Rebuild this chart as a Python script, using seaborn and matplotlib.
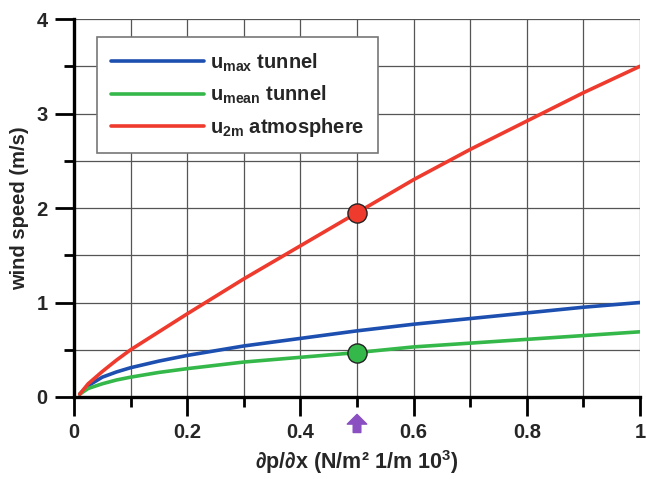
import numpy as np
import pandas as pd
import matplotlib
matplotlib.use("Agg")
import matplotlib.pyplot as plt
import seaborn as sns

# pressure gradient values
grad = [0.01, 0.025, 0.05, 0.075, 0.1, 0.15, 0.2, 0.3, 0.4, 0.5, 0.6, 0.7, 0.8, 0.9, 1.0]
u_max = [0.03, 0.12, 0.21, 0.265, 0.31, 0.38, 0.44, 0.54, 0.62, 0.70, 0.77, 0.83, 0.89, 0.95, 1.00]
u_mean = [0.03, 0.09, 0.14, 0.18, 0.21, 0.26, 0.30, 0.37, 0.42, 0.47, 0.53, 0.57, 0.61, 0.65, 0.69]
u_2m = [0.03, 0.14, 0.27, 0.39, 0.50, 0.69, 0.88, 1.25, 1.60, 1.95, 2.30, 2.62, 2.92, 3.22, 3.50]

series = ["umax", "umean", "u2m"]
labels = [r"u$_{max}$ tunnel", r"u$_{mean}$ tunnel", r"u$_{2m}$ atmosphere"]
colors = ["#1d4fb0", "#35b84a", "#ef3a2e"]

# highlighted operating point
pt_x = 0.5
pt_y = [1.95, 0.47]
pt_col = ["#ef3a2e", "#35b84a"]

df = pd.DataFrame({
    "x": grad * 3,
    "y": u_max + u_mean + u_2m,
    "s": [series[0]] * len(grad) + [series[1]] * len(grad) + [series[2]] * len(grad),
})

sns.set_style("white")
plt.rcParams["font.family"] = ["Liberation Sans", "DejaVu Sans"]
plt.rcParams["font.weight"] = "bold"
plt.rcParams["mathtext.fontset"] = "custom"
plt.rcParams["mathtext.rm"] = "Liberation Sans:bold"
plt.rcParams["mathtext.bf"] = "Liberation Sans:bold"
plt.rcParams["mathtext.it"] = "Liberation Sans:bold"
plt.rcParams["mathtext.default"] = "bf"

fig = plt.figure(figsize=(6.46, 4.79), dpi=100)
ax = fig.add_axes([0.1146, 0.1712, 0.8761, 0.7891])

sns.lineplot(data=df, x="x", y="y", hue="s", palette=dict(zip(series, colors)),
             linewidth=2.6, ax=ax, legend=False, zorder=3)

for y, c in zip(pt_y, pt_col):
    ax.scatter([pt_x], [y], s=190, color=c, edgecolor="#222222", linewidth=1.0, zorder=4)

ax.set_xlim(0, 1)
ax.set_ylim(0, 4)
ax.set_xticks([0, 0.2, 0.4, 0.6, 0.8, 1.0])
ax.set_xticklabels(["0", "0.2", "0.4", "0.6", "0.8", "1"])
ax.set_xticks(np.arange(0.1, 1.0, 0.2), minor=True)
ax.set_yticks([0, 1, 2, 3, 4])
ax.set_yticks([0.5, 1.5, 2.5, 3.5], minor=True)

ax.grid(True, which="both", color="#555555", linewidth=0.9)
ax.set_axisbelow(True)
ax.tick_params(which="both", bottom=True, left=True, top=False, right=False)
ax.tick_params(which="major", direction="out", length=14, width=2, color="black",
               labelsize=14.5, pad=5)
ax.tick_params(which="minor", direction="out", length=7, width=2, color="black")
for t in ax.get_xticklabels() + ax.get_yticklabels():
    t.set_fontweight("bold")

for side in ["top", "right"]:
    ax.spines[side].set_visible(False)
for side in ["left", "bottom"]:
    ax.spines[side].set_color("black")
    ax.spines[side].set_linewidth(2.4)
    ax.spines[side].set_zorder(5)

ax.set_xlabel("∂p/∂x (N/m² 1/m 10$^{3}$)", fontsize=15.5, fontweight="bold", labelpad=4)
ax.set_ylabel("wind speed (m/s)", fontsize=14.5, fontweight="bold", labelpad=5)

# purple arrow marking the chosen gradient
ax.annotate("", xy=(pt_x, -0.046), xytext=(pt_x, -0.094),
            xycoords=("data", "axes fraction"), textcoords=("data", "axes fraction"),
            arrowprops=dict(arrowstyle="simple,head_length=0.7,head_width=1.4,tail_width=0.55",
                            mutation_scale=10, shrinkA=0, shrinkB=0, color="#8a4fc0"),
            annotation_clip=False)

handles = [plt.Line2D([], [], color=c, linewidth=2.6) for c in colors]
leg = ax.legend(handles, labels, loc="upper left", bbox_to_anchor=(0.03, 0.968),
                fontsize=14.5, handlelength=4.6, handletextpad=0.3, labelspacing=0.5,
                borderpad=0.7, borderaxespad=0.3, fancybox=False, framealpha=1,
                edgecolor="#777777")
leg.get_frame().set_linewidth(1.2)
for t in leg.get_texts():
    t.set_fontweight("bold")

fig.savefig("out.png", dpi=100)
